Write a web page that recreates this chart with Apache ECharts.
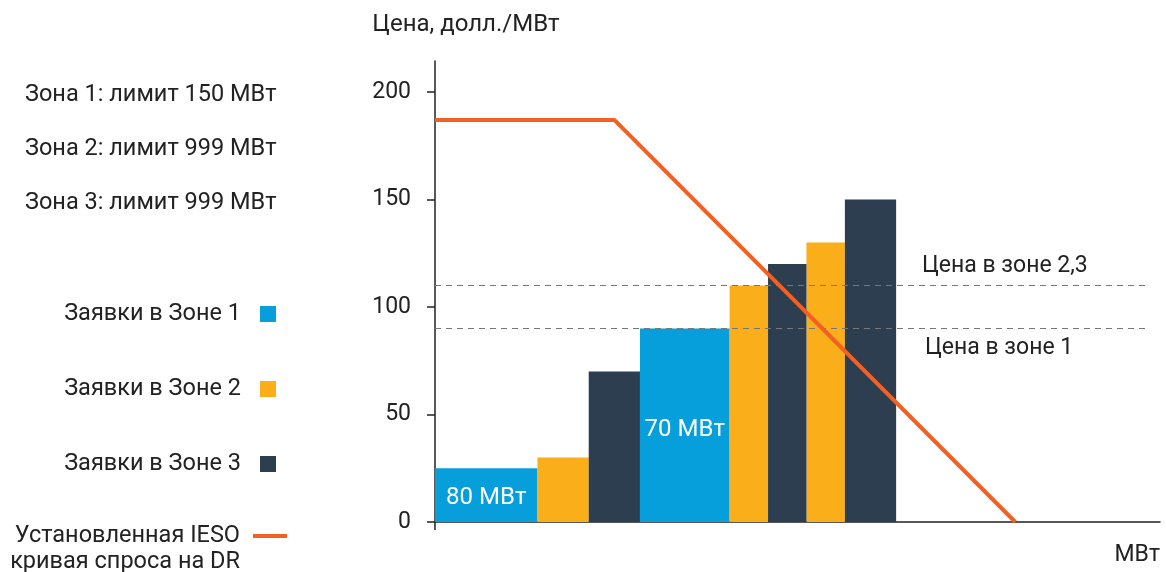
<!DOCTYPE html>
<html>
<head>
<meta charset="utf-8">
<script src="https://cdn.jsdelivr.net/npm/echarts@6/dist/echarts.min.js"></script>
<style>
  html, body { margin: 0; padding: 0; background: #fff; }
  #chart { width: 1166px; height: 572px; }
</style>
</head>
<body>
<div id="chart"></div>
<script>
// bids: [start MW, end MW, price]
var zone1Bids = [[0, 80, 25], [160, 230, 90]];
var zone2Bids = [[80, 120, 30], [230, 260, 110], [290, 320, 130]];
var zone3Bids = [[120, 160, 70], [260, 290, 120], [320, 360, 150]];
var zone1Labels = ['80 МВт', '70 МВт'];

// IESO demand curve points [MW, price]
var demandCurve = [[0, 187], [140, 187], [453, 0]];

var zonePrices = [110, 90];
var zonePriceNames = ['Цена в зоне 2,3', 'Цена в зоне 1'];
var priceLineEnd = 555;

var zoneLimits = ['Зона 1: лимит 150 МВт', 'Зона 2: лимит 999 МВт', 'Зона 3: лимит 999 МВт'];
var zoneNames = ['Заявки в Зоне 1', 'Заявки в Зоне 2', 'Заявки в Зоне 3'];
var curveName = 'Установленная IESO';
var curveName2 = 'кривая спроса на DR';
var yTicks = [0, 50, 100, 150, 200];

var FONT = 'Roboto';
var TEXT = '#222';
var FS = 23.5;
var colors = ['#079fdb', '#f9ae1a', '#2c3e50'];
// label lift from baseline, px
var labelLift = [24, 92];

function bidSeries(name, data, color, labels) {
  return {
    name: name,
    type: 'custom',
    itemStyle: { color: color },
    encode: { x: [0, 1], y: 2 },
    data: data,
    renderItem: function (params, api) {
      var p0 = api.coord([api.value(0), api.value(2)]);
      var p1 = api.coord([api.value(1), 0]);
      var el = {
        type: 'rect',
        shape: { x: p0[0], y: p0[1], width: p1[0] - p0[0], height: p1[1] - p0[1] },
        style: { fill: color }
      };
      if (labels && labels[params.dataIndex]) {
        return {
          type: 'group',
          children: [el, {
            type: 'text',
            style: {
              text: labels[params.dataIndex],
              x: (p0[0] + p1[0]) / 2,
              y: p1[1] - labelLift[params.dataIndex],
              fill: '#fff',
              font: '24px ' + FONT,
              align: 'center',
              verticalAlign: 'middle'
            }
          }]
        };
      }
      return el;
    }
  };
}

var chart = echarts.init(document.getElementById('chart'));
var option = {
  backgroundColor: '#fff',
  animation: false,
  textStyle: { fontFamily: FONT, color: TEXT },
  title: {
    text: zoneLimits.join('\n'),
    left: 25,
    top: 68,
    padding: 0,
    textStyle: { fontFamily: FONT, fontSize: FS, fontWeight: 'normal', color: TEXT, lineHeight: 54 }
  },
  graphic: [{
    type: 'text',
    right: 926,
    top: 550,
    style: { text: curveName2, font: FS + 'px ' + FONT, fill: TEXT }
  }],
  legend: [{
    orient: 'vertical',
    right: 890,
    top: 302,
    padding: 0,
    align: 'right',
    itemWidth: 16,
    itemHeight: 16,
    itemGap: 51,
    icon: 'rect',
    data: zoneNames,
    textStyle: { fontFamily: FONT, fontSize: FS, color: TEXT, lineHeight: 24, padding: [0, 14, 0, 0] }
  }, {
    orient: 'vertical',
    right: 879,
    top: 524,
    padding: 0,
    align: 'right',
    itemWidth: 34,
    itemHeight: 4,
    icon: 'rect',
    data: [curveName],
    textStyle: { fontFamily: FONT, fontSize: FS, color: TEXT, lineHeight: 24, padding: [0, 8, 0, 0] }
  }],
  grid: { left: 435, right: 6, top: 61, bottom: 50 },
  xAxis: {
    type: 'value',
    min: 0,
    max: 566,
    name: 'МВт',
    nameLocation: 'end',
    nameGap: 0,
    nameTextStyle: { fontFamily: FONT, fontSize: 23, color: TEXT, align: 'right', verticalAlign: 'top', padding: [22, 0, 0, 0] },
    splitLine: { show: false },
    axisLabel: { show: false },
    axisLine: { lineStyle: { color: '#222', width: 1.5 } },
    axisTick: { customValues: [0], length: 8, lineStyle: { color: '#222', width: 1.5 } }
  },
  yAxis: {
    type: 'value',
    min: 0,
    max: 214.4,
    interval: 50,
    name: 'Цена, долл./МВт',
    nameLocation: 'end',
    nameGap: 24,
    nameTextStyle: { fontFamily: FONT, fontSize: 24, color: TEXT, align: 'center', padding: [0, 0, 0, 62] },
    splitLine: { show: false },
    axisLine: { show: true, lineStyle: { color: '#222', width: 1.5 } },
    axisTick: { show: true, customValues: yTicks, length: 8, lineStyle: { color: '#222', width: 1.5 } },
    axisLabel: {
      customValues: yTicks,
      margin: 24,
      fontFamily: FONT, fontSize: 23, color: TEXT
    }
  },
  series: [
    bidSeries(zoneNames[0], zone1Bids, colors[0], zone1Labels),
    bidSeries(zoneNames[1], zone2Bids, colors[1]),
    bidSeries(zoneNames[2], zone3Bids, colors[2]),
    {
      name: curveName,
      type: 'line',
      data: demandCurve,
      symbol: 'none',
      z: 5,
      itemStyle: { color: '#f26024' },
      lineStyle: { color: '#f26024', width: 4 },
      markLine: {
        silent: true,
        symbol: 'none',
        lineStyle: { color: '#777', type: [6, 5], width: 1 },
        data: [
          [{ name: zonePriceNames[0], coord: [0, zonePrices[0]], label: { position: 'insideStartTop', distance: [487, 8] } },
           { coord: [priceLineEnd, zonePrices[0]] }],
          [{ name: zonePriceNames[1], coord: [0, zonePrices[1]], label: { position: 'insideStartBottom', distance: [490, 8] } },
           { coord: [priceLineEnd, zonePrices[1]] }]
        ],
        label: {
          show: true,
          fontFamily: FONT, fontSize: 23, color: TEXT,
          formatter: '{b}'
        }
      }
    }
  ]
};
chart.setOption(option);
</script>
</body>
</html>
